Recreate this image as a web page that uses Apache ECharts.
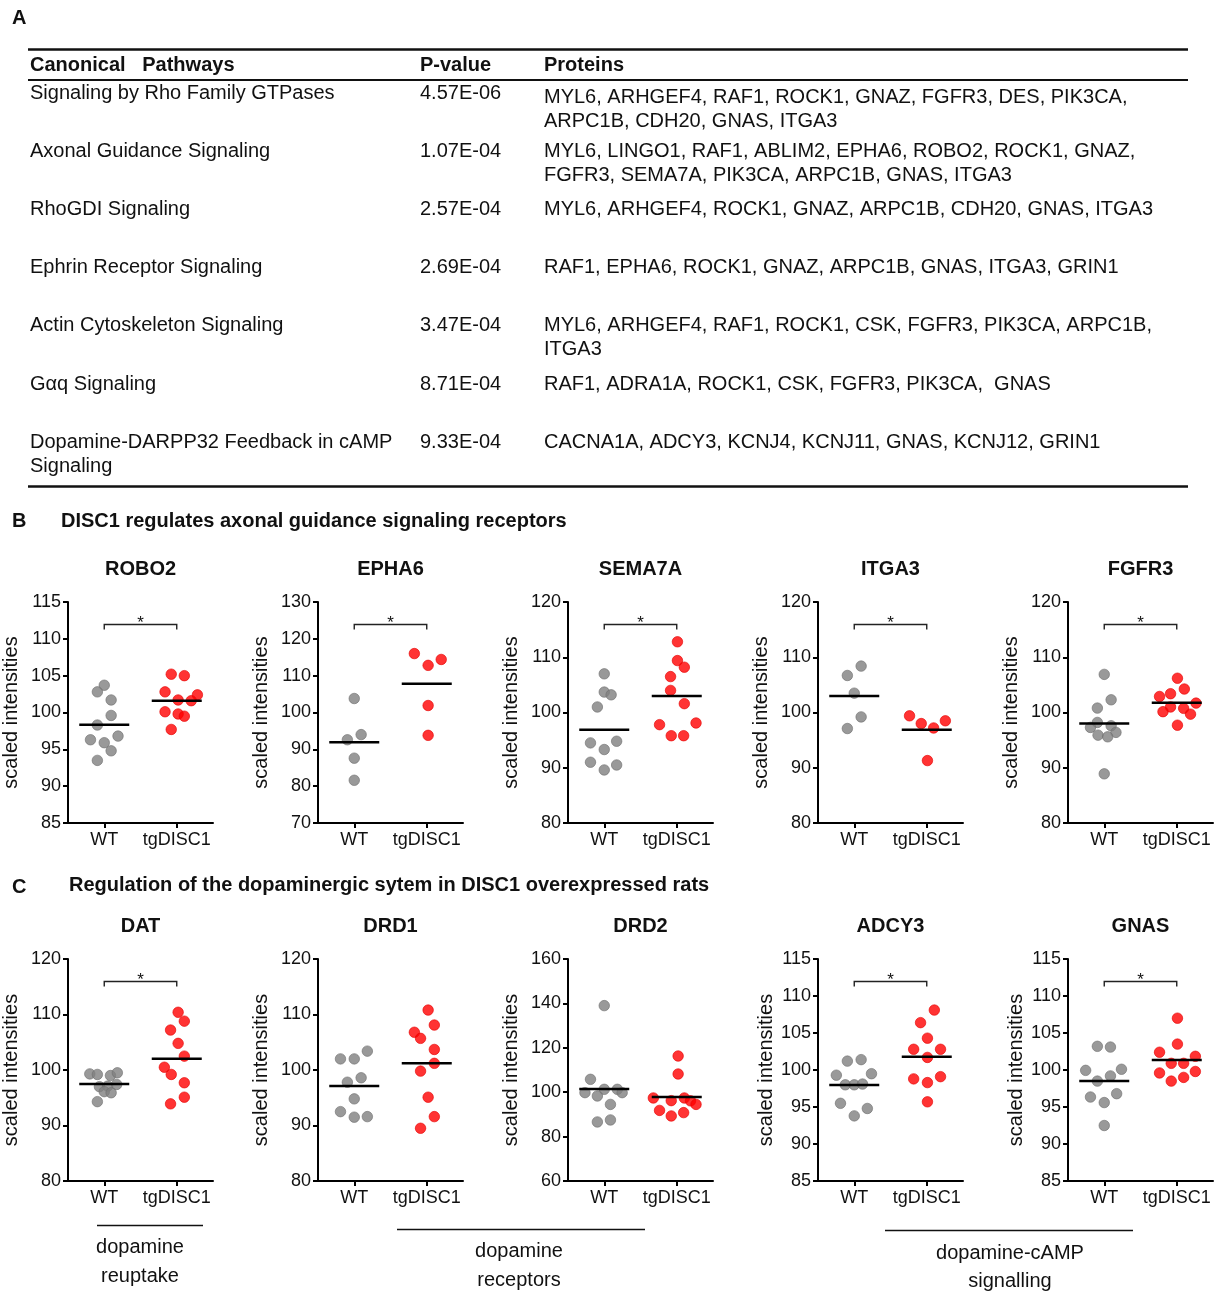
<!DOCTYPE html>
<html><head><meta charset="utf-8">
<script src="https://cdn.jsdelivr.net/npm/echarts@6/dist/echarts.min.js"></script>
<style>html,body{margin:0;padding:0;background:#fff}#c{width:1224px;height:1300px}</style>
</head><body><div id="c"></div>
<script>
// ---------- Panel A table ----------
const tableHeader = ['Canonical   Pathways', 'P-value', 'Proteins'];
const pathways = [
  'Signaling by Rho Family GTPases',
  'Axonal Guidance Signaling',
  'RhoGDI Signaling',
  'Ephrin Receptor Signaling',
  'Actin Cytoskeleton Signaling',
  'G\u03b1q Signaling',
  'Dopamine-DARPP32 Feedback in cAMP\nSignaling'
];
const pValues = ['4.57E-06', '1.07E-04', '2.57E-04', '2.69E-04', '3.47E-04', '8.71E-04', '9.33E-04'];
const proteins = [
  'MYL6, ARHGEF4, RAF1, ROCK1, GNAZ, FGFR3, DES, PIK3CA,\nARPC1B, CDH20, GNAS, ITGA3',
  'MYL6, LINGO1, RAF1, ABLIM2, EPHA6, ROBO2, ROCK1, GNAZ,\nFGFR3, SEMA7A, PIK3CA, ARPC1B, GNAS, ITGA3',
  'MYL6, ARHGEF4, ROCK1, GNAZ, ARPC1B, CDH20, GNAS, ITGA3',
  'RAF1, EPHA6, ROCK1, GNAZ, ARPC1B, GNAS, ITGA3, GRIN1',
  'MYL6, ARHGEF4, RAF1, ROCK1, CSK, FGFR3, PIK3CA, ARPC1B,\nITGA3',
  'RAF1, ADRA1A, ROCK1, CSK, FGFR3, PIK3CA,  GNAS',
  'CACNA1A, ADCY3, KCNJ4, KCNJ11, GNAS, KCNJ12, GRIN1'
];

// ---------- Panels B and C ----------
const groupLabels = ['WT', 'tgDISC1'];
const genes = ['ROBO2', 'EPHA6', 'SEMA7A', 'ITGA3', 'FGFR3', 'DAT', 'DRD1', 'DRD2', 'ADCY3', 'GNAS'];
const yMinVals = [85, 70, 80, 80, 80, 80, 80, 60, 85, 85];
const yMaxVals = [115, 130, 120, 120, 120, 120, 120, 160, 115, 115];
const yTickSteps = [5, 10, 10, 10, 10, 10, 10, 20, 5, 5];
const significant = [true, true, true, true, true, true, false, false, true, true];

// values (scaled intensities) and beeswarm slot offsets (in dot widths)
const robo2WT = [103.7, 102.8, 101.7, 99.6, 98.3, 96.8, 96.3, 95.9, 94.8, 93.5];
const robo2WTx = [0, -1, 1, 1, -1, 2, -2, 0, 1, -1];
const robo2TG = [105.2, 105.0, 102.8, 102.4, 101.7, 101.6, 100.1, 99.8, 99.5, 97.7];
const robo2TGx = [-0.8, 1.1, -1.7, 3.0, 0.2, 2.1, -1.7, 0.2, 1.1, -0.8];

const epha6WT = [103.8, 94.0, 92.6, 87.6, 81.6];
const epha6WTx = [0, 1, -1, 0, 0];
const epha6TG = [116.0, 114.4, 112.8, 101.9, 93.8];
const epha6TGx = [-1.8, 2.1, 0.2, 0.2, 0.2];

const sema7aWT = [107.0, 103.7, 103.2, 101.0, 94.5, 94.8, 93.3, 91.0, 90.5, 89.6];
const sema7aWTx = [0, 0, 1, -1, -2, 1.8, 0, -2, 1.8, 0];
const sema7aTG = [112.8, 109.4, 108.2, 106.5, 104.0, 101.6, 97.8, 98.1, 95.8, 95.8];
const sema7aTGx = [0.1, 0.1, 1.1, -0.9, -0.9, 1.1, -2.5, 2.8, -0.8, 1.0];

const itga3WT = [108.4, 106.7, 103.5, 99.2, 97.1];
const itga3WTx = [1, -1, 0, 1, -1];
const itga3TG = [99.4, 98.0, 98.5, 97.2, 91.3];
const itga3TGx = [-2.5, -0.8, 2.7, 1.0, 0.1];

const fgfr3WT = [106.9, 102.3, 100.8, 98.2, 97.6, 97.3, 96.4, 95.9, 95.6, 88.9];
const fgfr3WTx = [0, 1, -1, -1, 1, -2, 1.7, -0.9, 0.5, 0];
const fgfr3TG = [106.2, 104.25, 103.4, 102.9, 101.7, 101.0, 100.75, 100.15, 99.7, 97.7];
const fgfr3TGx = [0.1, 1.1, -0.9, -2.5, 2.8, -0.9, 1.0, -2.0, 2.0, 0.1];

const datWT = [99.3, 99.2, 99.0, 99.5, 97.0, 97.1, 97.4, 96.1, 95.9, 94.3];
const datWTx = [-2.1, -1.0, 0.9, 1.9, -0.7, 0.5, 1.8, 0, 1.0, -1.0];
const datTG = [110.4, 108.8, 107.2, 104.8, 102.5, 100.5, 99.2, 97.7, 95.1, 93.9];
const datTGx = [0.2, 1.1, -0.9, 0.2, 1.1, -1.8, -0.8, 1.1, 1.1, -0.9];

const drd1WT = [103.4, 102.0, 102.0, 98.6, 97.8, 94.8, 92.5, 91.5, 91.6];
const drd1WTx = [1.9, -2, 0, 1, -1, 0, -2, 0, 1.9];
const drd1TG = [110.8, 108.1, 106.8, 105.7, 103.7, 101.2, 99.8, 95.1, 91.6, 89.5];
const drd1TGx = [0.2, 1.1, -1.8, -0.9, 1.1, 1.1, -0.9, 0.2, 1.1, -0.9];

const drd2WT = [139.0, 105.8, 99.8, 101.3, 101.3, 98.3, 99.8, 94.5, 86.6, 87.5];
const drd2WTx = [0, -2, -2.8, 0, 1.9, -1, 2.6, 0.9, -1, 0.9];
const drd2TG = [116.3, 108.2, 97.4, 96.2, 97.4, 96.1, 94.5, 91.8, 90.8, 89.3];
const drd2TGx = [0.2, 0.2, -3.4, -0.8, 1.1, 2.0, 2.8, -2.5, 1.0, -0.8];

const adcy3WT = [101.2, 101.4, 99.3, 99.5, 98.0, 98.0, 98.1, 95.5, 94.8, 93.8];
const adcy3WTx = [-1, 1, -2.6, 2.5, -1.3, 0, 1.2, -2, 1.9, 0];
const adcy3TG = [108.1, 106.4, 104.3, 102.8, 102.8, 101.7, 98.8, 99.1, 98.3, 95.7];
const adcy3TGx = [1.1, -0.9, 0.1, -1.9, 2, 0.1, -1.9, 2, 0.1, 0.1];

const gnasWT = [103.2, 103.1, 99.95, 100.1, 98.5, 99.2, 96.35, 96.8, 95.6, 92.5];
const gnasWTx = [-1, 0.9, -2.7, 2.5, -1, 0.9, -2, 1.8, 0, 0];
const gnasTG = [107.0, 103.5, 102.4, 101.85, 100.9, 100.9, 99.6, 99.8, 98.5, 99.0];
const gnasTGx = [0.1, 0.1, -2.5, 2.7, -0.8, 1.0, -2.5, 2.7, -0.8, 1.0];

const panelWT = [robo2WT, epha6WT, sema7aWT, itga3WT, fgfr3WT, datWT, drd1WT, drd2WT, adcy3WT, gnasWT];
const panelWTx = [robo2WTx, epha6WTx, sema7aWTx, itga3WTx, fgfr3WTx, datWTx, drd1WTx, drd2WTx, adcy3WTx, gnasWTx];
const panelTG = [robo2TG, epha6TG, sema7aTG, itga3TG, fgfr3TG, datTG, drd1TG, drd2TG, adcy3TG, gnasTG];
const panelTGx = [robo2TGx, epha6TGx, sema7aTGx, itga3TGx, fgfr3TGx, datTGx, drd1TGx, drd2TGx, adcy3TGx, gnasTGx];

// ---------- layout / style ----------
const FONT = '"Liberation Sans", Arial, Helvetica, sans-serif';
const SLOT = 0.095;            // one dot width in axis units
const mean = a => a.reduce((s, v) => s + v, 0) / a.length;

const chart = echarts.init(document.getElementById('c'), null, { renderer: 'canvas' });

const grids = [], xAxes = [], yAxes = [], series = [], graphics = [];

genes.forEach((g, i) => {
  const col = i % 5, row = Math.floor(i / 5);
  const left = 68 + 250 * col;
  const top = row === 0 ? 602 : 959;
  const height = row === 0 ? 221 : 222;
  grids.push({ left: left, top: top, width: 145, height: height });
  xAxes.push({
    type: 'value', gridIndex: i, min: -0.5, max: 1.5,
    axisLine: { show: true, onZero: false, lineStyle: { color: '#000', width: 2 } },
    axisTick: { show: true, customValues: [0, 1], length: 5, lineStyle: { color: '#000', width: 2 } },
    axisLabel: { customValues: [0, 1], formatter: v => groupLabels[Math.round(v)], color: '#111',
                 fontSize: 18, fontFamily: FONT, margin: 8 },
    splitLine: { show: false }
  });
  const nameGap = (i >= 8) ? 42 : 47;
  yAxes.push({
    type: 'value', gridIndex: i, min: yMinVals[i], max: yMaxVals[i], interval: yTickSteps[i],
    name: 'scaled intensities', nameLocation: 'middle', nameGap: nameGap, nameRotate: 90,
    nameTextStyle: { fontSize: 20, fontFamily: FONT, color: '#111' },
    axisLine: { show: true, onZero: false, lineStyle: { color: '#000', width: 2 } },
    axisTick: { show: true, length: 5, lineStyle: { color: '#000', width: 2 } },
    axisLabel: { color: '#111', fontSize: 18, fontFamily: FONT, margin: 7 },
    splitLine: { show: false }
  });
  series.push({
    type: 'scatter', xAxisIndex: i, yAxisIndex: i, symbolSize: 10.5, z: 3,
    itemStyle: { color: '#808080', borderColor: '#707070', borderWidth: 0.8 },
    data: panelWT[i].map((v, k) => [0 + panelWTx[i][k] * SLOT, v])
  });
  series.push({
    type: 'scatter', xAxisIndex: i, yAxisIndex: i, symbolSize: 10.5, z: 3,
    itemStyle: { color: '#ff0000', borderColor: '#e60000', borderWidth: 0.8 },
    data: panelTG[i].map((v, k) => [1 + panelTGx[i][k] * SLOT, v])
  });
  series.push({
    type: 'custom', xAxisIndex: i, yAxisIndex: i, z: 5, clip: false,
    data: [[0, mean(panelWT[i])], [1, mean(panelTG[i])]],
    renderItem: (params, api) => {
      const p = api.coord([api.value(0), api.value(1)]);
      return { type: 'line', shape: { x1: p[0] - 25, y1: p[1], x2: p[0] + 25, y2: p[1] },
               style: { stroke: '#000', lineWidth: 2.5 } };
    }
  });
  if (significant[i]) {
    const yTop = yMaxVals[i];
    series.push({
      type: 'custom', xAxisIndex: i, yAxisIndex: i, z: 5, clip: false,
      data: [[0.5, yTop]],
      renderItem: (params, api) => {
        const a = api.coord([0, yTop]), b = api.coord([1, yTop]);
        const y = Math.round(a[1] + 22) + 0.5;
        return { type: 'group', children: [
          { type: 'polyline', shape: { points: [[a[0], y + 5], [a[0], y], [b[0], y], [b[0], y + 5]] },
            style: { stroke: '#222', lineWidth: 1.4, fill: null } },
          { type: 'text', style: { text: '*', x: (a[0] + b[0]) / 2, y: y - 1, align: 'center',
            verticalAlign: 'middle', font: '17px ' + FONT, fill: '#111' } }
        ] };
      }
    });
  }
  graphics.push({ type: 'text', style: { text: g, x: 140.5 + 250 * col, y: row === 0 ? 569 : 926,
    align: 'center', verticalAlign: 'middle', font: 'bold 20px ' + FONT, fill: '#111' } });
});

// ---------- table graphics ----------
const txt = (s, x, y, weight, size, va, align) => ({ type: 'text', style: {
  text: s, x: x, y: y, align: align || 'left', verticalAlign: va || 'middle',
  font: (weight || 'normal') + ' ' + (size || 20) + 'px ' + FONT, fill: '#111', lineHeight: 24 } });
const hline = (x1, x2, y, w) => ({ type: 'line', shape: { x1: x1, y1: y, x2: x2, y2: y },
  style: { stroke: '#111', lineWidth: w } });

graphics.push(txt('A', 12, 18, 'bold', 20));
graphics.push(hline(28, 1188, 49.5, 2.5));
graphics.push(txt(tableHeader[0], 30, 65, 'bold', 20));
graphics.push(txt(tableHeader[1], 420, 65, 'bold', 20));
graphics.push(txt(tableHeader[2], 544, 65, 'bold', 20));
graphics.push(hline(28, 1188, 80, 2));
pathways.forEach((p, r) => {
  const y = 93 + 58.2 * r;
  graphics.push(txt(p, 30, y - 12, 'normal', 20, 'top'));
  graphics.push(txt(pValues[r], 420, y - 12, 'normal', 20, 'top'));
  graphics.push(txt(proteins[r], 544, y - 12 + (r === 0 ? 4 : 0), 'normal', 20, 'top'));
});
graphics.push(hline(28, 1188, 486.5, 2.5));

// section headers
graphics.push(txt('B', 12, 521, 'bold', 20));
graphics.push(txt('DISC1 regulates axonal guidance signaling receptors', 61, 521, 'bold', 20));
graphics.push(txt('C', 12, 887, 'bold', 20));
graphics.push(txt('Regulation of the dopaminergic sytem in DISC1 overexpressed rats', 69, 885, 'bold', 20));

// group annotations under panel C
graphics.push(hline(97, 203, 1225.5, 1.5));
graphics.push(txt('dopamine', 140, 1247, 'normal', 20, 'middle', 'center'));
graphics.push(txt('reuptake', 140, 1276, 'normal', 20, 'middle', 'center'));
graphics.push(hline(397, 645, 1229.5, 1.5));
graphics.push(txt('dopamine', 519, 1251, 'normal', 20, 'middle', 'center'));
graphics.push(txt('receptors', 519, 1280, 'normal', 20, 'middle', 'center'));
graphics.push(hline(885, 1133, 1230.5, 1.5));
graphics.push(txt('dopamine-cAMP', 1010, 1253, 'normal', 20, 'middle', 'center'));
graphics.push(txt('signalling', 1010, 1281, 'normal', 20, 'middle', 'center'));

chart.setOption({
  backgroundColor: '#fff',
  animation: false,
  textStyle: { fontFamily: FONT },
  grid: grids, xAxis: xAxes, yAxis: yAxes, series: series,
  graphic: { elements: graphics }
});
</script></body></html>
